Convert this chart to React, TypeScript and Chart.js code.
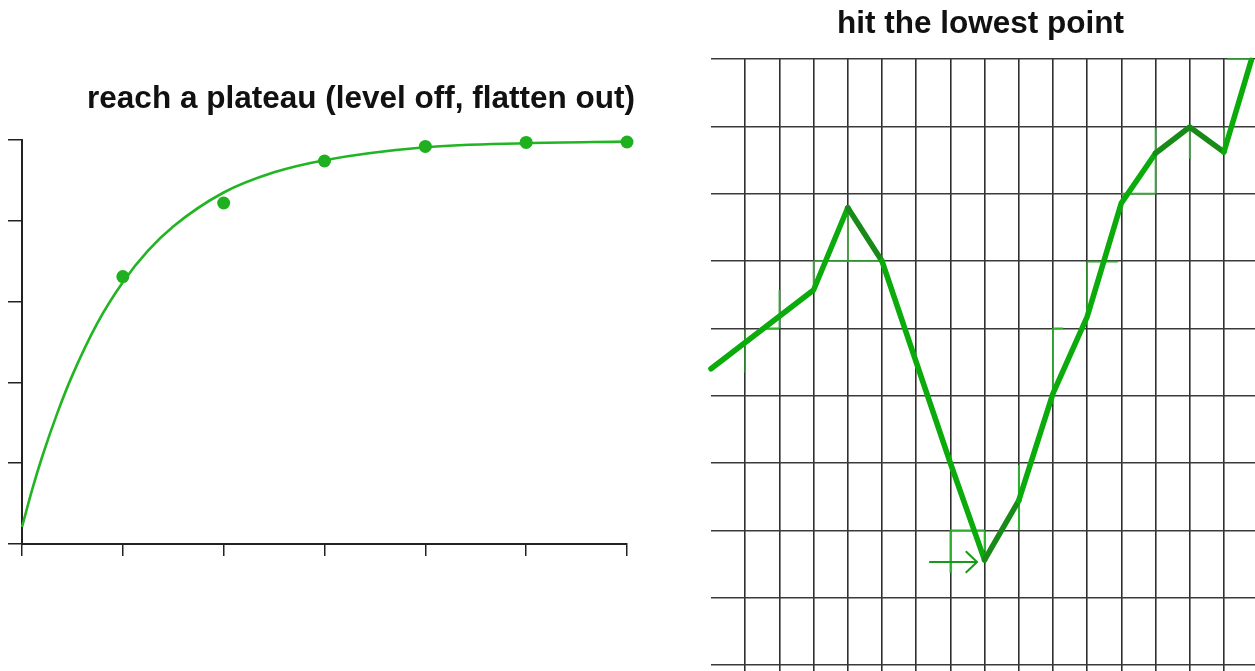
import { useEffect, useRef } from "react";
import { Chart, registerables } from "chart.js";

Chart.register(...registerables);

// ---- "reach a plateau" panel ----
const plateauTitle = "reach a plateau (level off, flatten out)";
const plateauTicksX = [0, 1, 2, 3, 4, 5, 6];
const plateauTicksY = [0, 1, 2, 3, 4, 5];
const measuredX = [1, 2, 3, 4, 5, 6];
const measuredY = [3.31, 4.22, 4.74, 4.92, 4.97, 4.975];
const trendX = [0, 0.1, 0.2, 0.35, 0.5, 0.75, 1, 1.25, 1.5, 2, 2.5, 3, 4, 5, 6];
const trendY = [0.21, 0.67, 1.08, 1.62, 2.09, 2.74, 3.24, 3.63, 3.93, 4.35, 4.6, 4.75, 4.91, 4.96, 4.98];

// ---- "hit the lowest point" panel ----
const lowestTitle = "hit the lowest point";
const gridColumns = [1, 2, 3, 4, 5, 6, 7, 8, 9, 10, 11, 12, 13, 14, 15];
const gridRows = [0, 1, 2, 3, 4, 5, 6, 7, 8, 9];
const pathX = [0, 1, 2, 3, 4, 5, 6, 7, 8, 9, 10, 11, 12, 13, 14, 15, 15.8];
const pathY = [4.4, 4.79, 5.18, 5.57, 6.79, 6.0, 4.5, 3.0, 1.56, 2.44, 4.03, 5.17, 6.86, 7.6, 7.99, 7.62, 8.98];
// segments (by start index) that are inked in the darker green
const darkSegments = [4, 8, 13, 14];
// rise / run construction marks: [x1, y1, x2, y2]
const stepMarks: number[][] = [
  [1, 4.34, 1, 4.97],
  [1.45, 5.0, 2, 5.0],
  [2, 5.0, 2, 5.57],
  [3, 5.63, 3, 6.0],
  [3, 6.0, 5, 6.0],
  [4, 6.0, 4, 6.79],
  [7, 2.0, 8, 2.0],
  [7, 2.0, 7, 1.37],
  [8, 2.0, 8, 1.7],
  [9, 2.0, 9, 2.97],
  [10, 4.04, 10, 5.0],
  [10, 5.0, 10.3, 5.0],
  [11, 5.17, 11, 5.98],
  [11, 5.99, 11.9, 5.99],
  [12, 7.0, 13, 7.0],
  [13, 7.0, 13, 7.97],
  [14, 7.97, 14, 7.52],
  [15, 7.6, 15, 7.97],
  [15.1, 9.0, 15.8, 9.0],
];
// arrow pointing at the minimum
const arrowShaft = [[6.38, 1.53], [7.78, 1.53]];
const arrowHead = [[7.45, 1.69], [7.78, 1.53], [7.45, 1.37]];

const FONT = '"Liberation Sans", Arial, Helvetica, sans-serif';

const captionPlugin = {
  id: "caption",
  afterDraw(chart: any, _args: any, opts: any) {
    const { ctx } = chart;
    ctx.save();
    ctx.font = `bold ${opts.size}px ${FONT}`;
    ctx.fillStyle = opts.color;
    ctx.textAlign = "center";
    ctx.textBaseline = "alphabetic";
    ctx.fillText(opts.text, opts.x, opts.y);
    ctx.restore();
  },
};

const toPolyline = (segs: number[][]) =>
  segs.flatMap(([x1, y1, x2, y2]) => [
    { x: x1, y: y1 },
    { x: x2, y: y2 },
    { x: x2, y: null },
  ]);

function PlateauChart() {
  const ref = useRef<HTMLCanvasElement>(null);
  useEffect(() => {
    if (!ref.current) return;
    const chart = new Chart(ref.current, {
      type: "line",
      data: {
        datasets: [
          {
            label: "measured",
            data: measuredX.map((x, i) => ({ x, y: measuredY[i] })),
            showLine: false,
            pointRadius: 6.5,
            pointBackgroundColor: "#1fb01f",
            pointBorderWidth: 0,
            clip: false,
          },
          {
            label: "trend",
            data: trendX.map((x, i) => ({ x, y: trendY[i] })),
            borderColor: "#22b422",
            borderWidth: 2.6,
            pointRadius: 0,
            cubicInterpolationMode: "monotone",
            clip: false,
          },
        ],
      },
      options: {
        responsive: false,
        animation: false,
        layout: { padding: { left: 8, top: 140, right: 33, bottom: 9 } },
        plugins: {
          legend: { display: false },
          tooltip: { enabled: false },
          caption: { text: plateauTitle, x: 361, y: 108, size: 31.5, color: "#111" },
        } as any,
        scales: {
          x: {
            type: "linear",
            min: 0,
            max: 6,
            afterBuildTicks: (s: any) => {
              s.ticks = plateauTicksX.map((v) => ({ value: v }));
            },
            ticks: { display: false },
            grid: { drawOnChartArea: false, tickLength: 12, color: "#222", lineWidth: 1.5 },
            border: { color: "#222", width: 2 },
          },
          y: {
            type: "linear",
            min: 0,
            max: 5,
            afterBuildTicks: (s: any) => {
              s.ticks = plateauTicksY.map((v) => ({ value: v }));
            },
            ticks: { display: false },
            grid: { drawOnChartArea: false, tickLength: 14, color: "#222", lineWidth: 1.5 },
            border: { color: "#222", width: 2 },
          },
        },
      },
      plugins: [captionPlugin],
    } as any);
    return () => chart.destroy();
  }, []);
  return (
    <canvas
      ref={ref}
      width={660}
      height={565}
      style={{ position: "absolute", left: 0, top: 0 }}
    />
  );
}

function LowestPointChart() {
  const ref = useRef<HTMLCanvasElement>(null);
  useEffect(() => {
    if (!ref.current) return;
    const chart = new Chart(ref.current, {
      type: "line",
      data: {
        datasets: [
          {
            label: "path",
            data: pathX.map((x, i) => ({ x, y: pathY[i] })),
            borderColor: "#0aab0a",
            borderWidth: 5.5,
            borderCapStyle: "round",
            borderJoinStyle: "round",
            pointRadius: 0,
            tension: 0,
            clip: false,
            segment: {
              borderColor: (c: any) =>
                darkSegments.includes(c.p0DataIndex) ? "#178a17" : "#0aab0a",
            },
          },
          {
            label: "arrow",
            data: [
              ...arrowShaft.map(([x, y]) => ({ x, y })),
              { x: arrowShaft[1][0], y: null },
              ...arrowHead.map(([x, y]) => ({ x, y })),
            ],
            borderColor: "#169b16",
            borderWidth: 2,
            pointRadius: 0,
            spanGaps: false,
            clip: false,
          },
          {
            label: "steps",
            data: toPolyline(stepMarks),
            borderColor: "#2cae2c",
            borderWidth: 1.6,
            pointRadius: 0,
            spanGaps: false,
            clip: false,
          },
        ],
      },
      options: {
        responsive: false,
        animation: false,
        layout: { padding: { left: 21, top: 59, right: 0, bottom: 0 } },
        plugins: {
          legend: { display: false },
          tooltip: { enabled: false },
          caption: { text: lowestTitle, x: 290.5, y: 33, size: 31.5, color: "#111" },
        } as any,
        scales: {
          x: {
            type: "linear",
            min: 0,
            max: 15.91,
            afterBuildTicks: (s: any) => {
              s.ticks = gridColumns.map((v) => ({ value: v }));
            },
            ticks: { display: false },
            grid: { tickLength: 6, color: "#2f2f2f", lineWidth: 1.6 },
            border: { display: false },
          },
          y: {
            type: "linear",
            min: 0,
            max: 9,
            afterBuildTicks: (s: any) => {
              s.ticks = gridRows.map((v) => ({ value: v }));
            },
            ticks: { display: false },
            grid: { drawTicks: false, color: "#3a3a3a", lineWidth: 1.6 },
            border: { display: false },
          },
        },
      },
      plugins: [captionPlugin],
    } as any);
    return () => chart.destroy();
  }, []);
  return (
    <canvas
      ref={ref}
      width={565}
      height={671}
      style={{ position: "absolute", left: 690, top: 0 }}
    />
  );
}

export default function App() {
  return (
    <div
      style={{
        position: "absolute",
        left: 0,
        top: 0,
        width: 1255,
        height: 671,
        overflow: "hidden",
        background: "#fff",
      }}
    >
      <PlateauChart />
      <LowestPointChart />
    </div>
  );
}
